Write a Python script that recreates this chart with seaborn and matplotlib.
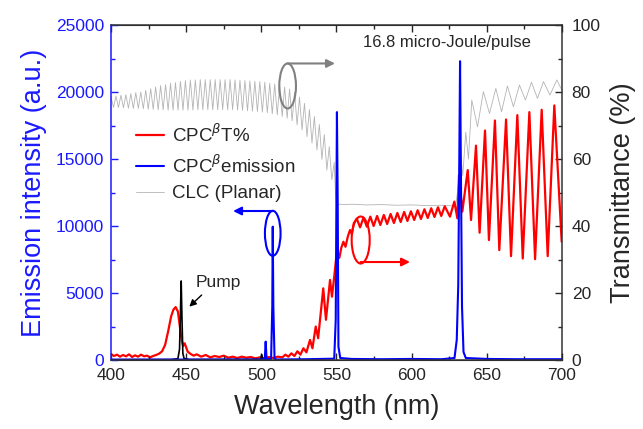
import matplotlib
matplotlib.use('Agg')
import matplotlib.pyplot as plt
import seaborn as sns
from matplotlib.patches import Ellipse
from matplotlib.ticker import MultipleLocator

# CLC (planar) transmittance, % -- fringes below the band edge
clc_wl_a = [400.0, 401.7, 403.3, 405.0, 406.6, 408.3, 409.9, 411.6, 413.2, 414.9,
            416.5, 418.2, 419.8, 421.5, 423.1, 424.8, 426.4, 428.1, 429.7, 431.4,
            433.0, 434.7, 436.3, 438.0, 439.6, 441.3, 442.9, 444.6, 446.2, 447.9,
            449.5, 451.2, 452.8, 454.5, 456.1, 457.8, 459.4, 461.1, 462.7, 464.4,
            466.0, 467.7, 469.3, 471.0, 472.6, 474.3, 475.9, 477.6, 479.2, 480.9,
            482.5, 484.2, 485.8, 487.5, 489.1, 490.8, 492.4, 494.1, 495.7, 497.4,
            499.0, 500.7, 502.3, 504.0, 505.6, 507.3, 508.9, 510.6, 512.2, 513.9,
            515.5, 517.2, 518.8, 520.5, 522.1, 523.8, 525.4, 527.1, 528.7, 530.4,
            532.0, 533.7, 535.3, 537.0, 538.6, 540.3, 541.9, 543.6, 545.2, 546.9,
            548.5]
clc_t_a = [78.5, 75.4, 78.8, 75.4, 79.0, 75.3, 79.2, 75.2, 79.5, 75.1,
           79.8, 75.1, 80.0, 75.0, 80.5, 74.9, 81.0, 74.8, 81.5, 74.7,
           81.9, 74.7, 82.2, 74.6, 82.6, 74.6, 82.8, 74.6, 83.2, 74.6,
           83.4, 74.6, 83.6, 74.6, 83.6, 74.7, 83.7, 74.7, 83.7, 74.7,
           83.7, 74.7, 83.7, 74.7, 83.7, 74.7, 83.7, 74.7, 83.7, 74.7,
           83.6, 74.6, 83.5, 74.5, 83.4, 74.4, 83.3, 74.3, 83.2, 74.2,
           83.1, 74.0, 82.9, 73.8, 82.6, 73.5, 82.4, 73.2, 82.0, 72.7,
           81.5, 72.2, 80.9, 71.4, 79.9, 70.2, 78.5, 68.7, 76.6, 66.7,
           74.8, 64.8, 72.7, 62.7, 70.3, 59.9, 67.3, 56.7, 63.7, 53.8,
           59.0]
# band gap + long-wavelength side
clc_wl_b = [549.3, 550.0, 555, 560, 570, 580, 590, 600, 610, 620, 628,
            629.5, 631, 632.5, 634, 636, 637.8, 640, 643.8, 647.7, 651.8,
            656, 659.8, 663.7, 667.7, 671.7, 675.7, 679.7, 683.7, 687.7, 692,
            696.6, 700]
clc_t_b = [50.0, 46.6, 46.4, 46.5, 46.3, 46.4, 46.2, 46.3, 46.1, 46.2, 46.0,
           46.8, 52.0, 62.0, 55.0, 68.0, 60.0, 77.6, 69.6, 80.1, 73.6,
           81.1, 74.1, 81.8, 75.6, 82.1, 77.6, 82.9, 78.1, 83.1, 79.1,
           83.6, 80.5]

# CPC-beta transmittance, %
cpc_wl = [400, 402, 404, 406, 408, 410, 412, 414, 416, 418, 420, 422, 424, 426,
          428, 430, 432, 434, 436, 438, 440, 441.5, 443, 444.5, 446, 447, 448,
          449, 450, 451, 453, 455, 457, 460, 463, 466, 469, 472, 475, 478, 481,
          484, 487, 490, 493, 496, 499, 502, 505, 508, 511, 514, 516, 518, 520,
          522, 524, 526, 528, 530, 532.4, 534, 536.2, 537.8, 539.5, 541.2, 543,
          545.7, 547, 548.5, 550.1, 551.9, 553.2, 554.6, 556, 557.5, 559, 560.2,
          561.5, 563.5, 565.7, 568, 570.2, 572.5, 574.7, 577, 579.2, 581.5,
          583.7, 586, 588.2, 590.5, 592.7, 595, 597.2, 599.5, 601.7, 604, 606.2,
          608.5, 610.7, 613, 615.2, 617.5, 619.7, 622, 625.5, 628.4, 630.4,
          631.5, 633.7, 637.3, 639.5, 642.8, 645.2, 648.8, 651.4, 655.4, 658.3,
          662.8, 666.1, 670.3, 673.9, 678.3, 682.1, 686.5, 690.5, 694.9, 699.8]
cpc_t = [1.8, 1.2, 1.6, 1.0, 1.5, 1.1, 1.7, 0.9, 1.4, 1.0, 1.6, 1.1, 1.3, 0.8,
         1.2, 1.5, 1.9, 2.6, 4.5, 8.5, 13.0, 15.0, 15.8, 14.5, 9.5, 6.0, 4.2,
         5.0, 3.8, 2.5, 1.8, 1.3, 1.7, 1.0, 1.5, 0.8, 1.2, 0.9, 1.3, 0.7, 1.0,
         0.6, 1.0, 0.7, 0.9, 0.5, 0.8, 0.5, 0.9, 0.6, 1.0, 0.8, 1.6, 1.0, 2.0,
         1.2, 2.6, 1.6, 3.5, 2.3, 6.0, 3.5, 10.0, 6.5, 14.0, 21.4, 12.0,
         23.9, 18.9, 24.9, 31.8, 30.5, 33.5, 35.3, 33.8, 36.8, 38.8, 37.6,
         40.8, 42.2, 39.6, 42.5, 39.8, 42.8, 40.0, 43.0, 40.3, 43.3,
         40.6, 43.6, 40.9, 43.9, 41.2, 44.2, 41.5, 44.4, 41.8, 44.7, 42.1,
         45.0, 42.4, 45.3, 42.7, 45.6, 43.0, 45.9, 42.8, 47.3, 42.3,
         55.2, 44.3, 56.7, 41.8, 64.0, 38.0, 68.5, 35.8, 71.5, 32.8,
         71.8, 31.0, 73.1, 30.3, 74.0, 30.1, 74.7, 31.0, 76.0, 35.3]

# CPC-beta emission, a.u.
emis_wl = [400, 500, 502.3, 502.9, 503.5, 506.5, 507.3, 507.6, 508.0, 508.8,
           510, 530, 548.5, 549.5, 550.3, 550.8, 551.3, 552.5, 560, 580, 600,
           620, 628.5, 630, 631, 631.7, 632.2, 632.7, 633.5, 634.5, 636, 650,
           670, 700]
emis_int = [30, 40, 60, 1370, 60, 80, 4000, 9950, 4000, 100,
            40, 60, 100, 3000, 18500, 12000, 1000, 150, 80, 60, 80,
            60, 150, 1500, 5600, 15000, 22300, 15000, 4000, 600, 150, 80,
            60, 60]

# pump laser, a.u.
pump_wl = [400, 440, 444.5, 445.6, 446.2, 446.7, 447.2, 447.8, 448.6, 452,
           499.5, 500.3, 501, 505]
pump_int = [20, 30, 100, 800, 3500, 5900, 3200, 500, 120, 30,
            40, 400, 40, 20]

sns.set_style('ticks')
plt.rcParams['font.family'] = ['Liberation Sans', 'DejaVu Sans']

fig, ax = plt.subplots(figsize=(6.43, 4.29), dpi=100)
fig.subplots_adjust(left=0.1726, right=0.874, bottom=0.1608, top=0.9417)
ax2 = ax.twinx()
ax.set_zorder(ax2.get_zorder() + 1)
ax.patch.set_visible(False)

sns.lineplot(x=clc_wl_a + clc_wl_b, y=clc_t_a + clc_t_b, ax=ax2,
             color='#b4b4b4', linewidth=0.6)
sns.lineplot(x=cpc_wl, y=cpc_t, ax=ax2, color='#ff0000', linewidth=1.6)
sns.lineplot(x=pump_wl, y=pump_int, ax=ax, color='black', linewidth=1.2)
sns.lineplot(x=emis_wl, y=emis_int, ax=ax, color='#0000ff', linewidth=1.5)
gray_line, red_line = ax2.lines[0], ax2.lines[1]
blue_line = ax.lines[1]

ax.set_xlim(400, 700)
ax.set_ylim(0, 25000)
ax2.set_ylim(0, 100)
ax.xaxis.set_major_locator(MultipleLocator(50))
ax.xaxis.set_minor_locator(MultipleLocator(25))
ax.yaxis.set_major_locator(MultipleLocator(5000))
ax.yaxis.set_minor_locator(MultipleLocator(2500))
ax2.yaxis.set_major_locator(MultipleLocator(20))
ax2.yaxis.set_minor_locator(MultipleLocator(10))

ax.tick_params(axis='x', which='both', direction='in', top=True,
               labelsize=12.5, pad=6, width=1)
ax.tick_params(axis='x', which='major', length=5)
ax.tick_params(axis='x', which='minor', length=3)
ax.tick_params(axis='y', which='both', direction='in', colors='#1a1aff',
               labelsize=12.5, pad=5, width=1)
ax.tick_params(axis='y', which='major', length=5)
ax.tick_params(axis='y', which='minor', length=3)
ax2.tick_params(axis='y', which='both', direction='in', labelsize=12.5,
                pad=7, width=1)
ax2.tick_params(axis='y', which='major', length=5)
ax2.tick_params(axis='y', which='minor', length=3)

for s in ax.spines.values():
    s.set_linewidth(1.1)
    s.set_color('#333333')
ax.spines['left'].set_color('#1a1aff')
ax.spines['right'].set_visible(False)
ax2.spines['left'].set_visible(False)
ax2.spines['right'].set_linewidth(1.1)
ax2.spines['right'].set_color('#333333')

ax.set_xlabel('Wavelength (nm)', fontsize=19.5, labelpad=8)
ax.set_ylabel('Emission intensity (a.u.)', fontsize=19.5, color='#1a1aff',
              labelpad=6)
ax2.set_ylabel('Transmittance (%)', fontsize=19.5, labelpad=7)

ax.legend([red_line, blue_line, gray_line],
          [r'CPC$^{\beta}$T%', r'CPC$^{\beta}$emission', 'CLC (Planar)'],
          loc='upper left', bbox_to_anchor=(0.0554, 0.705), frameon=False,
          fontsize=13.5, handlelength=1.5, handletextpad=0.4,
          labelspacing=0.45, borderpad=0, borderaxespad=0)

# ellipses with arrows pointing to the matching axis
ax.add_patch(Ellipse((517.5, 20450), 11.1, 3360, fill=False,
                     edgecolor='#808080', linewidth=1.5))
ax.annotate('', xy=(549, 22130), xytext=(517.5, 22130),
            arrowprops=dict(arrowstyle='-|>', color='#808080', lw=1.5,
                            mutation_scale=12, shrinkA=0, shrinkB=0))
ax.add_patch(Ellipse((507.6, 9455), 10.4, 3360, fill=False,
                     edgecolor='#0000ff', linewidth=1.5))
ax.annotate('', xy=(481.2, 11120), xytext=(507.6, 11120),
            arrowprops=dict(arrowstyle='-|>', color='#0000ff', lw=1.5,
                            mutation_scale=12, shrinkA=0, shrinkB=0))
ax.add_patch(Ellipse((566.1, 8955), 12.0, 3510, fill=False,
                     edgecolor='#ff0000', linewidth=1.5))
ax.annotate('', xy=(598.9, 7313), xytext=(566.1, 7313),
            arrowprops=dict(arrowstyle='-|>', color='#ff0000', lw=1.5,
                            mutation_scale=12, shrinkA=0, shrinkB=0))

ax.text(471.2, 5750, 'Pump', ha='center', va='center', fontsize=12.5)
ax.annotate('', xy=(452.1, 3980), xytext=(460.3, 4850),
            arrowprops=dict(arrowstyle='-|>', color='black', lw=1.0,
                            mutation_scale=10, shrinkA=0, shrinkB=0))
ax.text(623.5, 23730, '16.8 micro-Joule/pulse', ha='center', va='center',
        fontsize=12)

fig.savefig('out.png', dpi=100)
